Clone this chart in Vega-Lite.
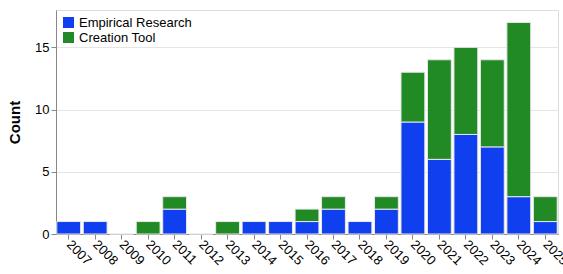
{
  "$schema": "https://vega.github.io/schema/vega-lite/v6.json",
  "width": 502,
  "height": 224,
  "padding": {"left": 7, "top": 10, "right": 5, "bottom": 0},
  "config": {
    "font": "Liberation Sans",
    "view": {"stroke": "#dddddd"},
    "axis": {"labelFont": "Liberation Sans", "titleFont": "Liberation Sans"}
  },
  "data": {
    "values": [
      {"year": "2007", "type": "Empirical Research", "count": 1},
      {"year": "2008", "type": "Empirical Research", "count": 1},
      {"year": "2009", "type": "Empirical Research", "count": 0},
      {"year": "2010", "type": "Creation Tool", "count": 1},
      {"year": "2011", "type": "Empirical Research", "count": 2},
      {"year": "2011", "type": "Creation Tool", "count": 1},
      {"year": "2012", "type": "Empirical Research", "count": 0},
      {"year": "2013", "type": "Creation Tool", "count": 1},
      {"year": "2014", "type": "Empirical Research", "count": 1},
      {"year": "2015", "type": "Empirical Research", "count": 1},
      {"year": "2016", "type": "Empirical Research", "count": 1},
      {"year": "2016", "type": "Creation Tool", "count": 1},
      {"year": "2017", "type": "Empirical Research", "count": 2},
      {"year": "2017", "type": "Creation Tool", "count": 1},
      {"year": "2018", "type": "Empirical Research", "count": 1},
      {"year": "2019", "type": "Empirical Research", "count": 2},
      {"year": "2019", "type": "Creation Tool", "count": 1},
      {"year": "2020", "type": "Empirical Research", "count": 9},
      {"year": "2020", "type": "Creation Tool", "count": 4},
      {"year": "2021", "type": "Empirical Research", "count": 6},
      {"year": "2021", "type": "Creation Tool", "count": 8},
      {"year": "2022", "type": "Empirical Research", "count": 8},
      {"year": "2022", "type": "Creation Tool", "count": 7},
      {"year": "2023", "type": "Empirical Research", "count": 7},
      {"year": "2023", "type": "Creation Tool", "count": 7},
      {"year": "2024", "type": "Empirical Research", "count": 3},
      {"year": "2024", "type": "Creation Tool", "count": 14},
      {"year": "2025", "type": "Empirical Research", "count": 1},
      {"year": "2025", "type": "Creation Tool", "count": 2}
    ]
  },
  "mark": {"type": "bar", "stroke": "#e8e8e8", "strokeWidth": 1},
  "encoding": {
    "x": {
      "field": "year",
      "type": "ordinal",
      "title": null,
      "scale": {"paddingInner": 0.1, "paddingOuter": 0.03},
      "axis": {"labelAngle": 45, "labelFontSize": 13, "labelColor": "#000", "domainColor": "#888", "tickColor": "#888", "labelAlign": "left", "labelBaseline": "middle", "labelPadding": 3}
    },
    "y": {
      "field": "count",
      "type": "quantitative",
      "title": "Count",
      "stack": "zero",
      "scale": {"domain": [0, 18]},
      "axis": {"values": [0, 5, 10, 15], "labelFontSize": 13, "labelColor": "#000", "titleFontSize": 15, "titleFontWeight": "bold", "titleColor": "#000", "domainColor": "#888", "tickColor": "#888", "gridColor": "#e5e5e5", "titlePadding": 12}
    },
    "color": {
      "field": "type",
      "type": "nominal",
      "scale": {"domain": ["Empirical Research", "Creation Tool"], "range": ["#0f3fef", "#218a24"]},
      "legend": {"title": null, "orient": "top-left", "symbolType": "square", "symbolSize": 121, "labelFontSize": 13, "labelColor": "#000", "offset": 6, "rowPadding": 1, "symbolStrokeWidth": 0}
    },
    "order": {"field": "type", "sort": "descending"}
  }
}
